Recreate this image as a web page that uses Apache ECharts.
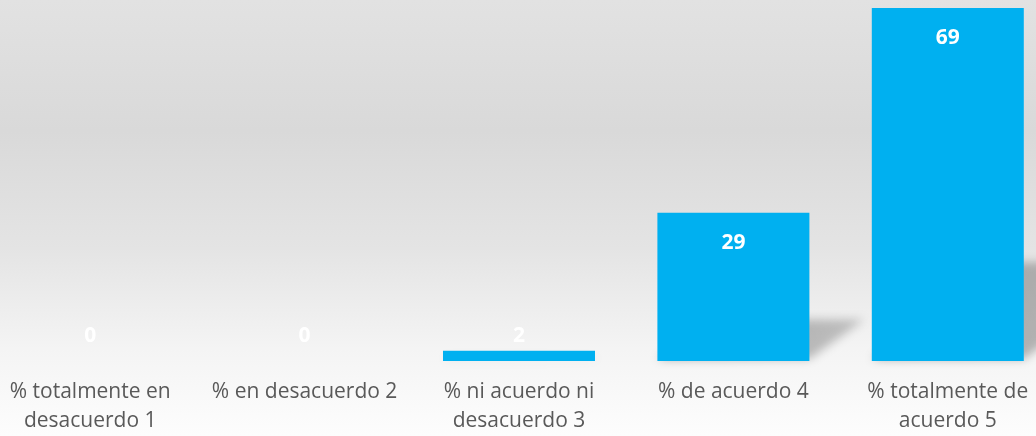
<!DOCTYPE html>
<html>
<head>
<meta charset="utf-8">
<script src="https://cdn.jsdelivr.net/npm/echarts@6/dist/echarts.min.js"></script>
<style>
html,body{margin:0;padding:0;background:#fff;overflow:hidden;width:1036px;height:436px;}
#wrap{position:relative;width:1036px;height:436px;overflow:hidden;
  background:linear-gradient(to bottom,#e2e2e2 0%,#d9d9d9 30%,#e4e4e4 57%,#f4f4f4 80%,#fdfdfd 100%);}
#chart{position:absolute;left:-17px;top:0;width:1072px;height:436px;}
</style>
</head>
<body>
<div id="wrap"><div id="chart"></div></div>
<script>
var categories = [
  '% totalmente en\ndesacuerdo 1',
  '% en desacuerdo 2',
  '% ni acuerdo ni\ndesacuerdo 3',
  '% de acuerdo 4',
  '% totalmente de\nacuerdo 5'
];
var values = [0, 0, 2, 29, 69];

var BAR_W = 152;
var chart = echarts.init(document.getElementById('chart'), null, {renderer: 'canvas'});

var barData = values.map(function (v) {
  var small = v < 5;
  return {
    value: v,
    label: small
      ? {position: 'insideBottom', distance: 14}
      : {position: 'insideTop', distance: 20}
  };
});

var shadowData = values.map(function (v, i) { return [i, v]; });

chart.setOption({
  animation: false,
  backgroundColor: 'transparent',
  grid: {left: 0, right: 0, top: 8, bottom: 74, containLabel: false},
  xAxis: {
    type: 'category',
    data: categories,
    axisLine: {show: false},
    axisTick: {show: false},
    axisLabel: {
      color: '#595959',
      fontFamily: 'Open Sans',
      fontSize: 21,
      lineHeight: 29,
      margin: 17,
      interval: 0
    }
  },
  yAxis: {
    type: 'value',
    min: 0,
    max: 69,
    show: false,
    splitLine: {show: false}
  },
  series: [
    {
      type: 'custom',
      z: 1,
      silent: true,
      data: shadowData,
      renderItem: function (params, api) {
        var i = api.value(0);
        var v = api.value(1);
        var base = api.coord([i, 0]);
        var top = api.coord([i, v]);
        var h = base[1] - top[1];
        if (h < 1) { return null; }
        var xL = base[0] - BAR_W / 2;
        var xR = base[0] + BAR_W / 2;
        var dx = 0.37 * h;
        var dy = 0.28 * h;
        var off = 4000;
        return {
          type: 'polygon',
          shape: {
            points: [
              [xL - off, base[1] - 2],
              [xR - off, base[1] - 2],
              [xR + dx - off, base[1] - dy],
              [xL + dx - off, base[1] - dy]
            ]
          },
          style: {
            fill: {
              type: 'linear', x: 0, y: 1, x2: 1, y2: 0,
              colorStops: [
                {offset: 0, color: 'rgba(0,0,0,1)'},
                {offset: 1, color: 'rgba(0,0,0,0.6)'}
              ]
            },
            shadowColor: 'rgba(0,0,0,0.34)',
            shadowBlur: 10,
            shadowOffsetX: off,
            shadowOffsetY: 0
          }
        };
      }
    },
    {
      type: 'bar',
      z: 2,
      barWidth: BAR_W,
      data: barData,
      itemStyle: {
        color: '#00B0F0'
      },
      label: {
        show: true,
        color: '#ffffff',
        fontFamily: 'Open Sans',
        fontWeight: 'bold',
        fontSize: 21
      }
    }
  ]
});
</script>
</body>
</html>
